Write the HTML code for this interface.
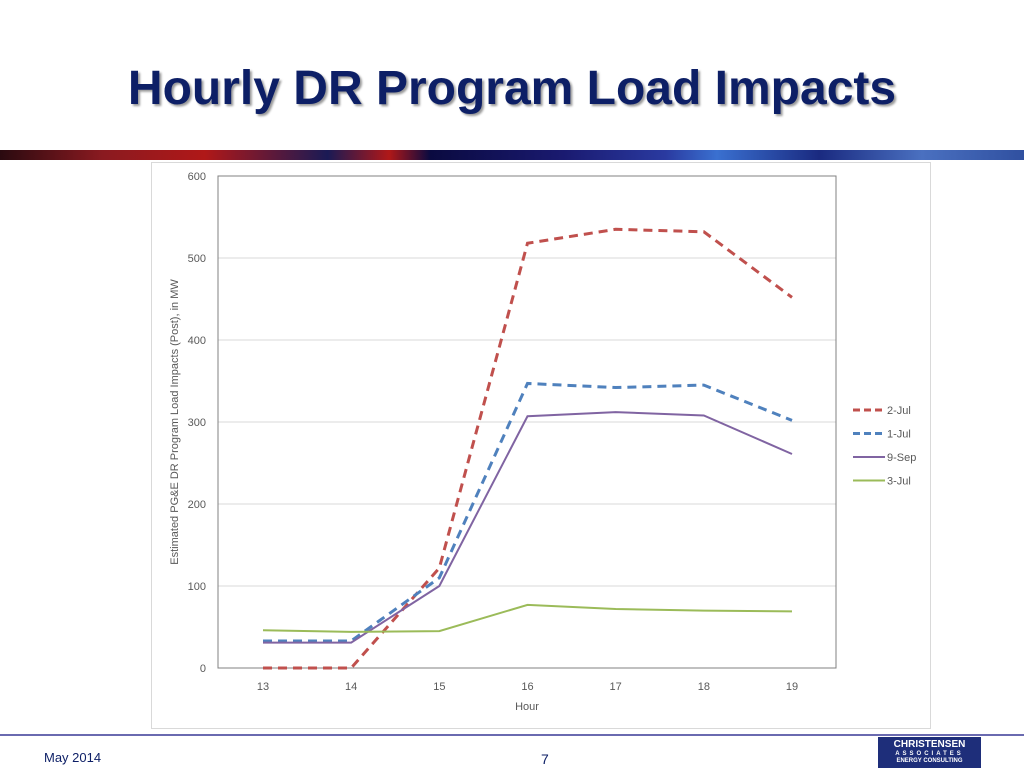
<!DOCTYPE html>
<html><head><meta charset="utf-8"><style>
body{margin:0;width:1024px;height:768px;background:#fff;position:relative;overflow:hidden;font-family:"Liberation Sans",sans-serif}
#title{position:absolute;left:0;width:1024px;top:61px;text-align:center;font-size:48px;font-weight:bold;color:#0d1f66;text-shadow:2px 2px 2px #999;font-family:"Liberation Sans",sans-serif}
#banner{position:absolute;left:0;top:150px;width:1024px;height:10px;background:linear-gradient(90deg,#2a0a10 0%,#8a1a20 10%,#b01818 20%,#1a1a55 32%,#b01818 38%,#0a0a40 42%,#1a1a70 55%,#2a3aa0 65%,#3a70d0 70%,#1a2a80 80%,#4a70c0 90%,#3050a0 100%)}
#frame{position:absolute;left:151px;top:162px;width:778px;height:565px;border:1px solid #d9d9d9}
#footline{position:absolute;left:0;top:734px;width:1024px;height:2px;background:#6a6ab0}
#date{position:absolute;left:44px;top:750px;font-size:13px;color:#0d1f66}
#pnum{position:absolute;left:541px;top:751px;font-size:14px;color:#0d1f66}
#logo{position:absolute;left:878px;top:737px;width:103px;height:31px;background:#1e2e7a;color:#fff;text-align:center;font-weight:bold;line-height:1}
</style></head><body>
<div id="title">Hourly DR Program Load Impacts</div>
<div id="banner"></div>
<div id="frame"></div>
<svg id="chart" width="1024" height="768" style="position:absolute;left:0;top:0"></svg>
<div id="footline"></div>
<div id="date">May 2014</div>
<div id="pnum">7</div>
<div id="logo"><div style="font-size:10px;margin-top:3px">CHRISTENSEN</div><div style="font-size:6px;letter-spacing:3px;margin-top:1px">ASSOCIATES</div><div style="font-size:6px;margin-top:1px">ENERGY CONSULTING</div></div>
<script>
const categories=[13,14,15,16,17,18,19];
const yTicks=[0,100,200,300,400,500,600];
const seriesNames=["2-Jul","1-Jul","9-Sep","3-Jul"];
const jul2=[0,0,122,518,535,532,452];
const jul1=[33,33,110,347,342,345,302];
const sep9=[31,31,100,307,312,308,261];
const jul3=[46,44,45,77,72,70,69];
const svg=document.getElementById('chart');
const NS='http://www.w3.org/2000/svg';
const L=218,R=836,T=176,B=668;
const x=i=>263+i*(792-263)/(categories.length-1);
const y=v=>B-(v/600)*(B-T);
function mk(t,a){const e=document.createElementNS(NS,t);for(const k in a)e.setAttribute(k,a[k]);svg.appendChild(e);return e;}
yTicks.forEach(v=>{
 if(v>0){const g=mk('line',{x1:L,x2:R,y1:y(v),y2:y(v),stroke:'#d9d9d9','stroke-width':1});
 
 }
 const t=mk('text',{x:206,y:y(v)+4,'text-anchor':'end','font-size':11,fill:'#595959','font-family':'Liberation Sans, sans-serif'});t.textContent=v;
 
 
});
const pa=mk('rect',{x:L,y:T,width:R-L,height:B-T,fill:'none',stroke:'#808080','stroke-width':1});


categories.forEach((c,i)=>{const t=mk('text',{x:x(i),y:690,'text-anchor':'middle','font-size':11,fill:'#595959','font-family':'Liberation Sans, sans-serif'});t.textContent=c;
 
 });
const xt=mk('text',{x:527,y:710,'text-anchor':'middle','font-size':11,fill:'#595959','font-family':'Liberation Sans, sans-serif'});xt.textContent='Hour';


const yt=mk('text',{x:0,y:0,transform:'translate(178,422) rotate(-90)','text-anchor':'middle','font-size':11,fill:'#595959','font-family':'Liberation Sans, sans-serif'});yt.textContent='Estimated PG&E DR Program Load Impacts (Post), in MW';


const data=[jul2,jul1,sep9,jul3];
const colors=['#c0504d','#4f81bd','#8064a2','#9bbb59'];
const dashes=['9,6','9,6','',''];
const widths=[3,3,2,2];
data.forEach((s,k)=>{
 const p=mk('polyline',{points:s.map((v,i)=>x(i)+','+y(v)).join(' '),fill:'none',stroke:colors[k],'stroke-width':widths[k],'stroke-dasharray':dashes[k]});
 
 
 const ly=410+k*23.5;
 const l=mk('line',{x1:853,x2:885,y1:ly,y2:ly,stroke:colors[k],'stroke-width':widths[k],'stroke-dasharray':dashes[k]?'7,4':''});
 
 
 const t=mk('text',{x:887,y:ly+4,'font-size':11,fill:'#595959','font-family':'Liberation Sans, sans-serif'});t.textContent=seriesNames[k];
 
 
});
</script>
</body></html>
